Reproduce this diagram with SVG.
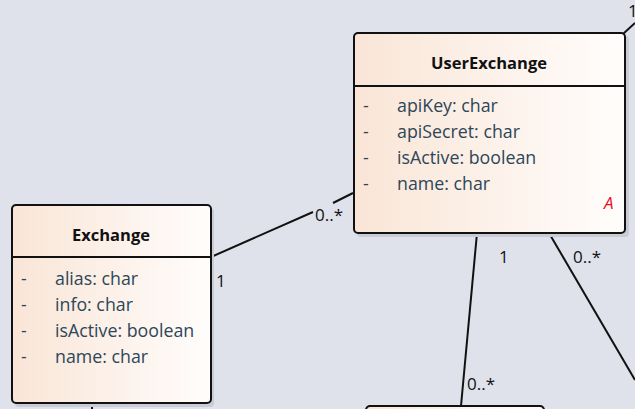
<svg xmlns="http://www.w3.org/2000/svg" width="635" height="409" viewBox="0 0 635 409">
<defs>
<linearGradient id="g" x1="0" y1="0" x2="1" y2="0">
<stop offset="0" stop-color="#f9e5d6"/>
<stop offset="1" stop-color="#fffdfc"/>
</linearGradient>
<style>
.box{fill:url(#g);stroke:#111;stroke-width:2}
.sh{fill:#c9ccd5}
.div{stroke:#111;stroke-width:2}
.t{font-family:"Open Sans","Noto Sans",sans-serif;font-weight:bold;font-size:16.5px;fill:#111;text-anchor:middle}
.a{font-family:"Open Sans","Noto Sans",sans-serif;font-size:17.8px;fill:#2d4658}
.l{font-family:"Open Sans","Noto Sans",sans-serif;font-size:17px;fill:#111}
.c{stroke:#111;stroke-width:2;fill:none}
.st{font-family:"Open Sans","Noto Sans",sans-serif;font-style:italic;font-size:17px;fill:#e8101c}
</style>
</defs>
<rect width="635" height="409" fill="#dfe2eb"/>
<g id="connectors">
<line class="c" x1="623" y1="34" x2="635" y2="23"/>
<line class="c" x1="211" y1="257" x2="313" y2="212"/>
<line class="c" x1="333" y1="203" x2="353" y2="193"/>
<line class="c" x1="477" y1="233" x2="461" y2="406"/>
<line class="c" x1="549" y1="233" x2="635" y2="380"/>
<line class="c" x1="92" y1="403" x2="92" y2="409"/>
<text class="l" x="628" y="17">1</text>
<text class="l" x="315" y="221">0..*</text>
<text class="l" x="216" y="287">1</text>
<text class="l" x="499" y="263">1</text>
<text class="l" x="573" y="263">0..*</text>
<text class="l" x="467" y="390">0..*</text>
</g>
<g id="UserExchange">
<rect class="sh" x="357" y="36" width="272" height="201" rx="4"/>
<rect class="box" x="354" y="33" width="271" height="200" rx="4"/>
<line class="div" x1="354" y1="86" x2="625" y2="86"/>
<text class="t" x="489" y="69">UserExchange</text>
<text class="a" x="363" y="112">-</text><text class="a" x="397" y="112">apiKey: char</text>
<text class="a" x="363" y="138">-</text><text class="a" x="397" y="138">apiSecret: char</text>
<text class="a" x="363" y="164">-</text><text class="a" x="397" y="164">isActive: boolean</text>
<text class="a" x="363" y="190">-</text><text class="a" x="397" y="190">name: char</text>
<text class="st" x="604" y="209">A</text>
</g>
<g id="Exchange">
<rect class="sh" x="15" y="208" width="199" height="199" rx="4"/>
<rect class="box" x="12" y="205" width="199" height="198" rx="4"/>
<line class="div" x1="12" y1="257" x2="211" y2="257"/>
<text class="t" x="111" y="241">Exchange</text>
<text class="a" x="21" y="285">-</text><text class="a" x="55" y="285">alias: char</text>
<text class="a" x="21" y="311">-</text><text class="a" x="55" y="311">info: char</text>
<text class="a" x="21" y="337">-</text><text class="a" x="55" y="337">isActive: boolean</text>
<text class="a" x="21" y="363">-</text><text class="a" x="55" y="363">name: char</text>
</g>
<g id="BottomNode">
<rect class="box" x="366" y="406" width="178" height="20" rx="4"/>
</g>
</svg>
